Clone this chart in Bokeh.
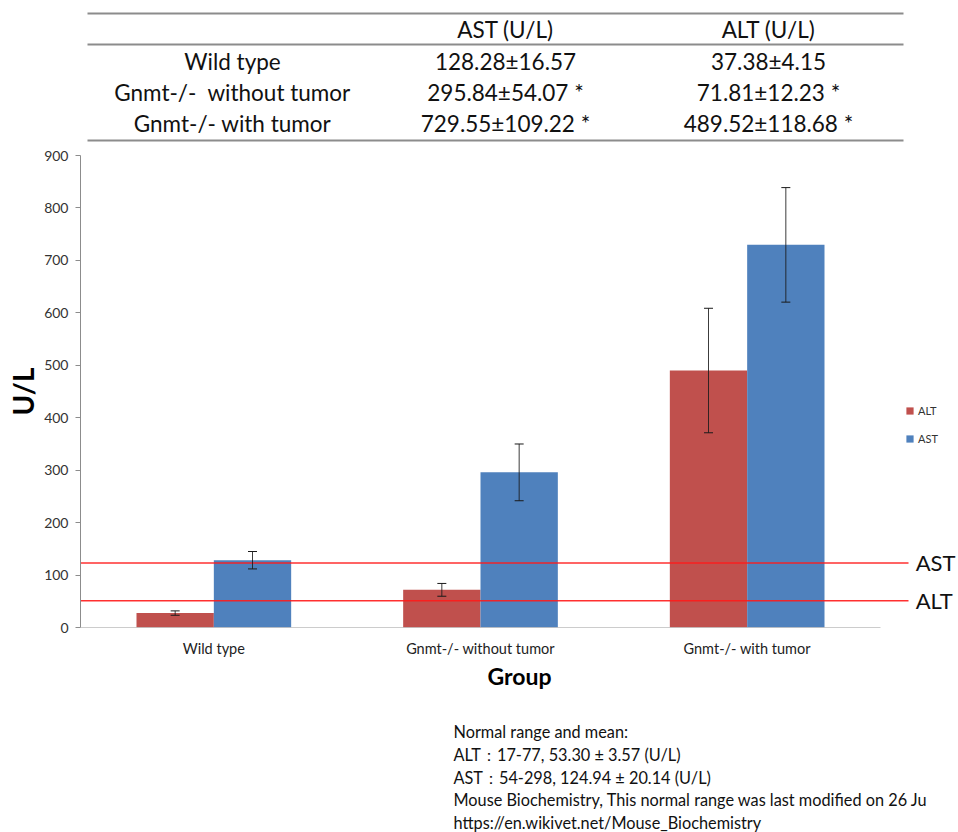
from bokeh.plotting import figure
from bokeh.models import Range1d, FixedTicker, ColumnDataSource, Whisker, TeeHead
from bokeh.layouts import column
from bokeh.embed import file_html
from bokeh.resources import INLINE
from bokeh.core.properties import value

FONT = "Lato"

# ---------------- data ----------------
groups = ["Wild type", "Gnmt-/- without tumor", "Gnmt-/- with tumor"]
table_groups = ["Wild type", "Gnmt-/-\u00a0 without tumor", "Gnmt-/- with tumor"]
table_headers = ["AST (U/L)", "ALT (U/L)"]
ast_mean = [128.28, 295.84, 729.55]
ast_sd = [16.57, 54.07, 109.22]
alt_mean = [37.38, 71.81, 489.52]
alt_sd = [4.15, 12.23, 118.68]
ast_sig = ["", " *", " *"]
alt_sig = ["", " *", " *"]

# bars as drawn in the chart
alt_bar = [27.5, 71.8, 490.0]
alt_err = [4.2, 12.2, 118.7]
ast_bar = [128.3, 295.8, 729.6]
ast_err = [16.6, 54.1, 109.2]

# reference lines (normal means)
ref_names = ["AST", "ALT"]
ref_values = [123.0, 51.0]

y_ticks = [0, 100, 200, 300, 400, 500, 600, 700, 800, 900]

notes = [
    "Normal range and mean:",
    "ALT\uff1a17-77, 53.30 \u00b1 3.57 (U/L)",
    "AST\uff1a54-298, 124.94 \u00b1 20.14 (U/L)",
    "Mouse Biochemistry, This normal range was last modified on 26 Ju",
    "https://en.wikivet.net/Mouse_Biochemistry",
]

ALT_COLOR = "#C0504D"
AST_COLOR = "#4F81BD"

W = 958
LEFT = 80          # frame left edge for every stacked figure
TXT = "#111111"

# ---------------- table figure ----------------
TH = 148
tp = figure(width=W, height=TH, x_range=Range1d(LEFT, W), y_range=Range1d(TH, 0),
            toolbar_location=None, output_backend="svg",
            min_border_left=LEFT, min_border_right=0, min_border_top=0, min_border_bottom=0,
            x_axis_location=None, y_axis_location=None)
tp.grid.visible = False
tp.outline_line_color = None

rule_y = [13, 44, 140]
tp.segment(x0=[87] * 3, x1=[903] * 3, y0=rule_y, y1=rule_y,
           line_color="#8c8c8c", line_width=2)
col_x = [505, 768]
tp.text(x=col_x, y=[29, 29], text=table_headers,
        text_align="center", text_baseline="middle",
        text_font=value(FONT), text_font_size="22.5px", text_color=TXT)
row_y = [61 + 31 * i for i in range(len(table_groups))]
tp.text(x=[232] * 3, y=row_y, text=table_groups,
        text_align="center", text_baseline="middle",
        text_font=value(FONT), text_font_size="22.5px", text_color=TXT)
ast_txt = [f"{m:.2f}\u00b1{s:.2f}{g}" for m, s, g in zip(ast_mean, ast_sd, ast_sig)]
alt_txt = [f"{m:.2f}\u00b1{s:.2f}{g}" for m, s, g in zip(alt_mean, alt_sd, alt_sig)]
tp.text(x=[col_x[0]] * 3, y=row_y, text=ast_txt,
        text_align="center", text_baseline="middle",
        text_font=value(FONT), text_font_size="22.5px", text_color=TXT)
tp.text(x=[col_x[1]] * 3, y=row_y, text=alt_txt,
        text_align="center", text_baseline="middle",
        text_font=value(FONT), text_font_size="22.5px", text_color=TXT)

# ---------------- chart figure ----------------
n = len(groups)
cat_px = 800 / n  # pixels per category
x_end = (W - LEFT) / cat_px

p = figure(width=W, height=554, x_range=Range1d(0, x_end), y_range=Range1d(0, 900),
           toolbar_location=None, output_backend="svg",
           min_border_left=LEFT, min_border_right=0, min_border_top=7,
           min_border_bottom=75)
p.grid.visible = False
p.outline_line_color = None
p.background_fill_color = "white"

dodge = 0.145
bw = 0.29
centers = [i + 0.5 for i in range(n)]
x_alt = [c - dodge for c in centers]
x_ast = [c + dodge for c in centers]

p.vbar(x=x_alt, top=alt_bar, width=bw, fill_color=ALT_COLOR, line_color=None,
       legend_label="ALT")
p.vbar(x=x_ast, top=ast_bar, width=bw, fill_color=AST_COLOR, line_color=None,
       legend_label="AST")

# baseline (category axis line)
p.segment(x0=[0], x1=[n], y0=[0], y1=[0], line_color="#9a9a9a", line_width=1.2)

# reference lines
line_end = n + 0.105
p.segment(x0=[0] * 2, x1=[line_end] * 2, y0=ref_values, y1=ref_values,
          line_color="#ff1a1a", line_width=1.3, line_alpha=0.9)
p.text(x=[n + 0.132] * 2, y=ref_values, text=ref_names,
       text_align="left", text_baseline="middle",
       text_font=value(FONT), text_font_size="22px", text_color=TXT)

# error bars
err_src = ColumnDataSource(dict(
    x=x_alt + x_ast,
    upper=[v + e for v, e in zip(alt_bar, alt_err)] + [v + e for v, e in zip(ast_bar, ast_err)],
    lower=[v - e for v, e in zip(alt_bar, alt_err)] + [v - e for v, e in zip(ast_bar, ast_err)],
))
wk = Whisker(base="x", upper="upper", lower="lower", source=err_src, dimension="height",
             line_color="#1a1a1a", line_width=1, line_alpha=0.85, level="overlay",
             upper_head=TeeHead(size=9, line_color="#1a1a1a", line_width=1),
             lower_head=TeeHead(size=9, line_color="#1a1a1a", line_width=1))
p.add_layout(wk)

# axes
xa = p.xaxis[0]
xa.ticker = FixedTicker(ticks=centers)
xa.major_label_overrides = {c: g for c, g in zip(centers, groups)}
xa.axis_line_color = None
xa.major_tick_line_color = None
xa.minor_tick_line_color = None
xa.major_tick_out = 0
xa.major_label_standoff = 12
xa.major_label_text_font = FONT
xa.major_label_text_font_size = "14.5px"
xa.major_label_text_color = "#222222"
xa.axis_label = "Group"
xa.axis_label_text_font = FONT
xa.axis_label_text_font_style = "bold"
xa.axis_label_text_font_size = "23px"
xa.axis_label_text_color = "#000000"
xa.axis_label_standoff = 2

ya = p.yaxis[0]
ya.ticker = FixedTicker(ticks=y_ticks)
ya.axis_line_color = "#8c8c8c"
ya.major_tick_line_color = "#8c8c8c"
ya.major_tick_in = 0
ya.major_tick_out = 5
ya.minor_tick_line_color = None
ya.major_label_standoff = 7
ya.major_label_text_font = FONT
ya.major_label_text_font_size = "14px"
ya.major_label_text_color = "#333333"
ya.axis_label = "U/L"
ya.axis_label_text_font = FONT
ya.axis_label_text_font_style = "bold"
ya.axis_label_text_font_size = "28px"
ya.axis_label_text_color = "#000000"
ya.axis_label_standoff = 1

lg = p.legend[0]
lg.location = (825, 182)
lg.border_line_color = None
lg.background_fill_alpha = 0
lg.padding = 0
lg.margin = 0
lg.spacing = 15
lg.glyph_width = 9
lg.glyph_height = 9
lg.label_standoff = 4
lg.label_text_font = FONT
lg.label_text_font_size = "11px"
lg.label_text_color = "#333333"

# ---------------- notes figure ----------------
NTOP = 148 + 554
NH = 832 - NTOP
npf = figure(width=W, height=NH, x_range=Range1d(LEFT, W), y_range=Range1d(NTOP + NH, NTOP),
             toolbar_location=None, output_backend="svg",
             min_border_left=LEFT, min_border_right=0, min_border_top=0, min_border_bottom=0,
             x_axis_location=None, y_axis_location=None)
npf.grid.visible = False
npf.outline_line_color = None
note_y = [731 + 22.8 * i for i in range(len(notes))]
npf.text(x=[453] * len(notes), y=note_y, text=notes,
         text_align="left", text_baseline="middle",
         text_font=value(FONT), text_font_size="16.3px", text_color=TXT)

layout = column(tp, p, npf, spacing=0)
open("out.html", "w").write(file_html(layout, INLINE))
